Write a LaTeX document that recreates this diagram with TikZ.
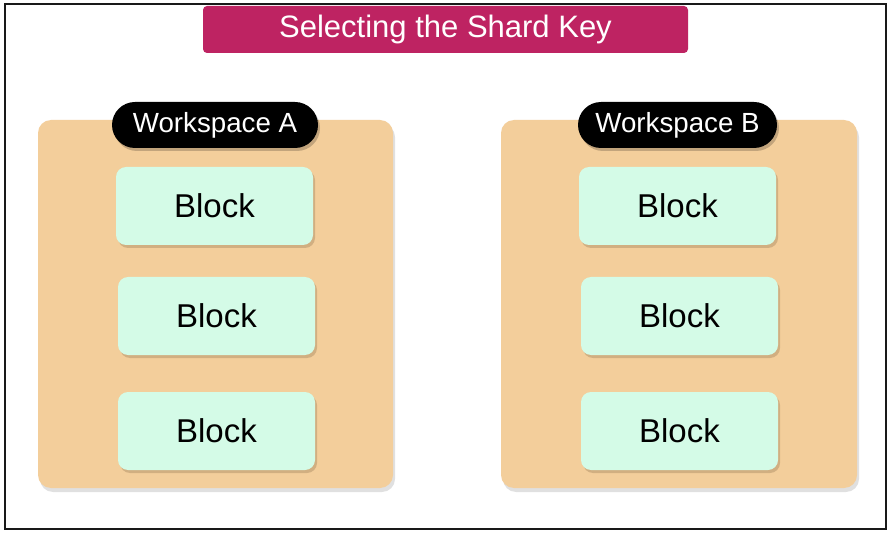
\documentclass[tikz,border=0pt]{standalone}
\usepackage{fontspec}
\setmainfont{Liberation Sans}
\usetikzlibrary{shadows}
\definecolor{titlecol}{HTML}{BE2362}
\definecolor{panelcol}{HTML}{F3CE9B}
\definecolor{blockcol}{HTML}{D4FBE7}
\tikzset{
  titlebox/.style={fill=titlecol, rounded corners=4pt, minimum width=485pt, minimum height=47pt, inner sep=0pt, text=white, font=\fontsize{31}{36}\selectfont},
  panel/.style={fill=panelcol, rounded corners=13pt, minimum height=368pt, inner sep=0pt, drop shadow={shadow xshift=2pt, shadow yshift=-4pt, opacity=0.12, fill=black}},
  pill/.style={fill=black, rounded corners=23pt, minimum height=46pt, inner sep=0pt, text=white, font=\fontsize{27.7}{32}\selectfont, drop shadow={shadow xshift=2pt, shadow yshift=-3pt, opacity=0.2, fill=black}},
  blockbox/.style={fill=blockcol, rounded corners=10pt, minimum width=197pt, minimum height=78pt, inner sep=0pt, text=black, font=\fontsize{33}{38}\selectfont, drop shadow={shadow xshift=2pt, shadow yshift=-3pt, opacity=0.2, fill=black!60!brown}},
}
\begin{document}
\begin{tikzpicture}[x=1pt,y=-1pt]
\useasboundingbox (0,0) rectangle (894,537);
\fill[white] (0,0) rectangle (894,537);
\draw[line width=2.6pt, black!90] (5,4) rectangle (886,529);
\node[titlebox] (title) at (445.5,29.5) {Selecting the Shard Key};
\node[panel, minimum width=355pt] (panelA) at (215.5,304) {};
\node[panel, minimum width=356pt] (panelB) at (679,304) {};
\node[pill, minimum width=206pt] (wsA) at (215,125) {Workspace A};
\node[pill, minimum width=199pt] (wsB) at (677.5,125) {Workspace B};
\node[blockbox] (a1) at (214.5,206) {Block};
\node[blockbox] (a2) at (216.5,316) {Block};
\node[blockbox] (a3) at (216.5,431) {Block};
\node[blockbox] (b1) at (677.5,206) {Block};
\node[blockbox] (b2) at (679.5,316) {Block};
\node[blockbox] (b3) at (679.5,431) {Block};
\end{tikzpicture}
\end{document}
